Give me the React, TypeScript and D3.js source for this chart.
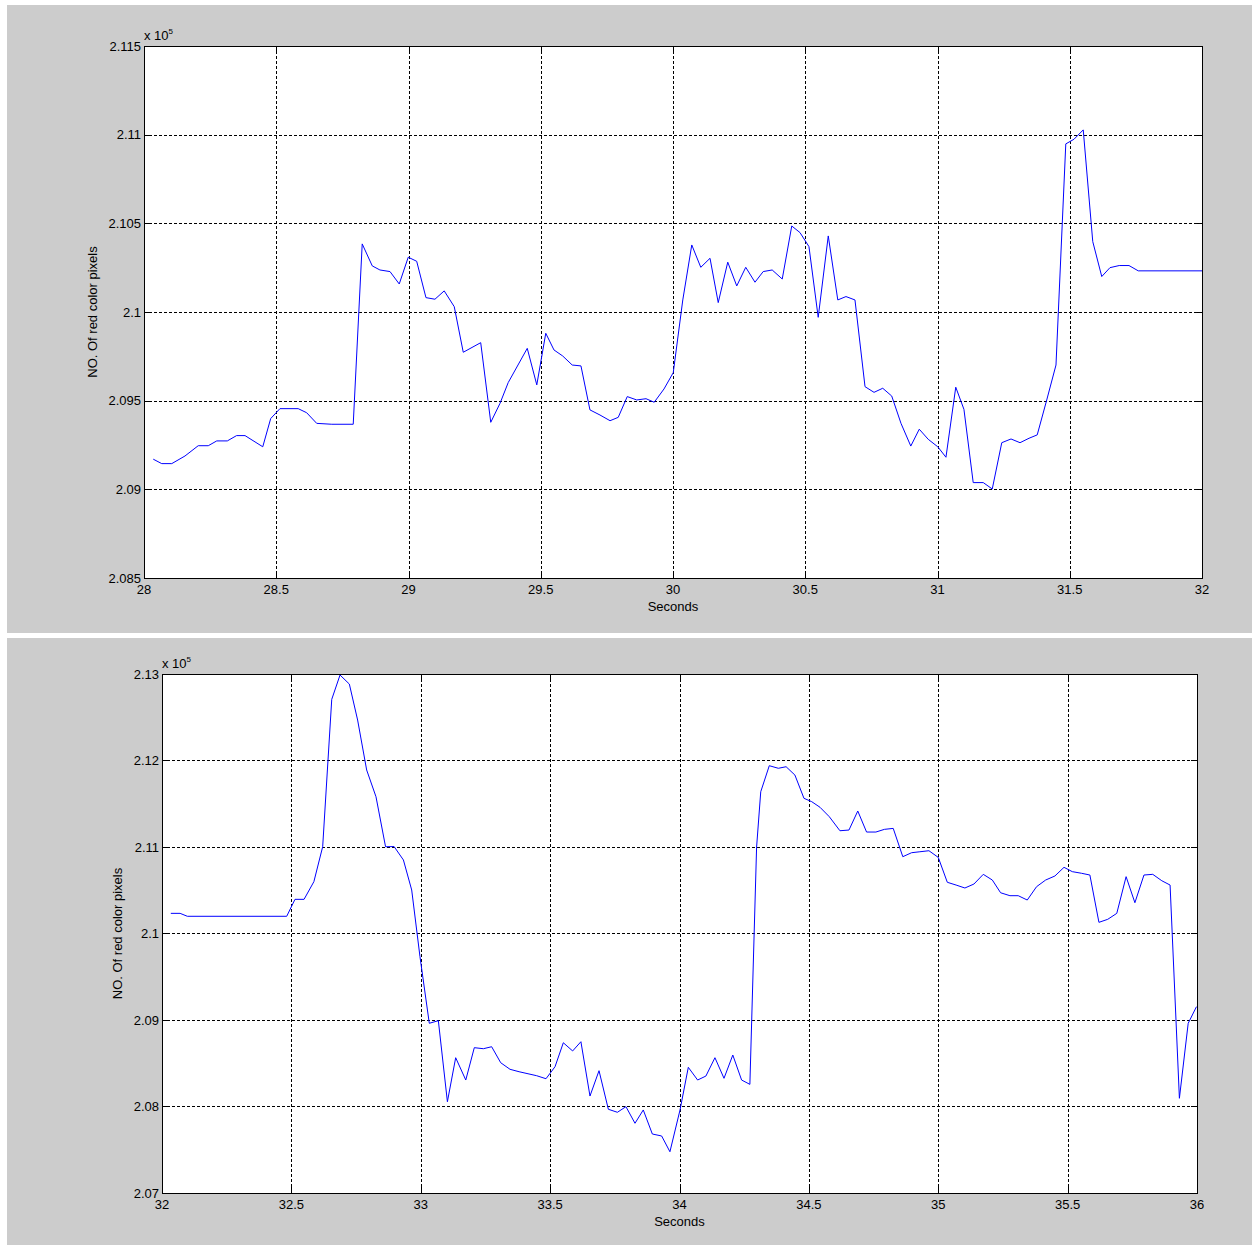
import React, { useEffect, useRef } from 'react';
import * as d3 from 'd3';

// Top panel: 28 - 32 s (values in units of 10^5 pixels)
const topSeconds = [
  28.035, 28.067, 28.105, 28.155, 28.205, 28.243, 28.275, 28.315, 28.35, 28.382,
  28.449, 28.479, 28.514, 28.583, 28.615, 28.653, 28.71, 28.791, 28.825, 28.863,
  28.892, 28.93, 28.965, 28.999, 29.031, 29.066, 29.1, 29.135, 29.173, 29.207,
  29.273, 29.311, 29.346, 29.377, 29.449, 29.485, 29.519, 29.55, 29.583, 29.619,
  29.652, 29.686, 29.724, 29.762, 29.793, 29.827, 29.863, 29.898, 29.929, 29.966,
  30.001, 30.037, 30.071, 30.105, 30.14, 30.171, 30.207, 30.241, 30.275, 30.31,
  30.341, 30.375, 30.413, 30.449, 30.48, 30.514, 30.549, 30.587, 30.623, 30.654,
  30.688, 30.726, 30.76, 30.793, 30.827, 30.862, 30.899, 30.931, 30.965, 31.001,
  31.032, 31.069, 31.1, 31.135, 31.173, 31.207, 31.243, 31.278, 31.312, 31.346,
  31.377, 31.413, 31.448, 31.485, 31.516, 31.551, 31.587, 31.621, 31.652, 31.687,
  31.724, 31.759, 32.0,
];
const topPixels = [
  2.0917, 2.09145, 2.09145, 2.09188, 2.09246, 2.09246, 2.09273, 2.09273, 2.09303, 2.09303,
  2.0924, 2.09399, 2.09455, 2.09455, 2.09432, 2.09372, 2.09367, 2.09367, 2.10384, 2.1026,
  2.10237, 2.10228, 2.10158, 2.10309, 2.10286, 2.10081, 2.10072, 2.10119, 2.1003, 2.09773,
  2.09827, 2.09378, 2.09485, 2.09602, 2.09795, 2.09589, 2.0988, 2.09786, 2.09752, 2.09701,
  2.09696, 2.09448, 2.09419, 2.09387, 2.09406, 2.09523, 2.09504, 2.09511, 2.09491, 2.09566,
  2.09658, 2.10068, 2.10378, 2.10252, 2.10303, 2.10053, 2.10281, 2.10147, 2.10252, 2.10168,
  2.10228, 2.10237, 2.10186, 2.10485, 2.10448, 2.10369, 2.0997, 2.10429, 2.10068, 2.10087,
  2.10068, 2.09579, 2.09547, 2.0957, 2.09526, 2.09372, 2.09244, 2.09339, 2.09282, 2.0924,
  2.09181, 2.09576, 2.09451, 2.09038, 2.09038, 2.09002, 2.09263, 2.09284, 2.09263, 2.09288,
  2.09307, 2.09504, 2.09701, 2.10948, 2.10974, 2.11027, 2.10397, 2.102, 2.1025, 2.10262,
  2.10262, 2.10232, 2.10232,
];
const topXTicks = [28, 28.5, 29, 29.5, 30, 30.5, 31, 31.5, 32];
const topYTicks = [2.085, 2.09, 2.095, 2.1, 2.105, 2.11, 2.115];

// Bottom panel: 32 - 36 s
const bottomSeconds = [
  32.034, 32.07, 32.098, 32.482, 32.514, 32.549, 32.587, 32.621, 32.656, 32.688,
  32.724, 32.756, 32.791, 32.827, 32.864, 32.897, 32.933, 32.965, 32.997, 33.033,
  33.068, 33.103, 33.135, 33.174, 33.207, 33.242, 33.274, 33.309, 33.345, 33.38,
  33.448, 33.484, 33.519, 33.551, 33.587, 33.619, 33.654, 33.689, 33.725, 33.76,
  33.793, 33.828, 33.86, 33.895, 33.931, 33.963, 34.002, 34.034, 34.07, 34.102,
  34.137, 34.172, 34.206, 34.24, 34.272, 34.298, 34.314, 34.347, 34.382, 34.412,
  34.446, 34.481, 34.511, 34.543, 34.579, 34.62, 34.655, 34.689, 34.723, 34.759,
  34.792, 34.826, 34.863, 34.897, 34.929, 34.964, 35.0, 35.035, 35.069, 35.103,
  35.138, 35.174, 35.209, 35.241, 35.277, 35.309, 35.344, 35.38, 35.415, 35.451,
  35.486, 35.518, 35.554, 35.586, 35.621, 35.655, 35.69, 35.726, 35.76, 35.795,
  35.829, 35.864, 35.896, 35.932, 35.966, 35.998,
];
const bottomPixels = [
  2.10233, 2.10233, 2.10199, 2.10199, 2.10395, 2.10395, 2.10599, 2.11003, 2.12707, 2.12988,
  2.12884, 2.12468, 2.1189, 2.11581, 2.11003, 2.11005, 2.1085, 2.10503, 2.09732, 2.08962,
  2.08992, 2.08055, 2.08564, 2.08306, 2.0868, 2.08668, 2.08691, 2.08506, 2.0843, 2.08402,
  2.08356, 2.08321, 2.0846, 2.08737, 2.08642, 2.08749, 2.08121, 2.08414, 2.07968, 2.07933,
  2.07998, 2.07806, 2.0796, 2.07682, 2.07659, 2.07477, 2.0796, 2.08453, 2.08306, 2.08352,
  2.08564, 2.08326, 2.08595, 2.08306, 2.08256, 2.11, 2.11639, 2.1194, 2.1191, 2.11928,
  2.11832, 2.11563, 2.11524, 2.11459, 2.1135, 2.11188, 2.11196, 2.11416, 2.11173, 2.11173,
  2.11204, 2.11215, 2.10888, 2.10934, 2.10945, 2.10957, 2.1088, 2.10592, 2.1056, 2.10526,
  2.10572, 2.10684, 2.10618, 2.10471, 2.10437, 2.10437, 2.10387, 2.10541, 2.10618, 2.10665,
  2.10765, 2.10715, 2.10696, 2.10676, 2.10129, 2.10164, 2.10233, 2.10657, 2.10356, 2.10676,
  2.10684, 2.1061, 2.1056, 2.08095, 2.08962, 2.09154,
];
const bottomXTicks = [32, 32.5, 33, 33.5, 34, 34.5, 35, 35.5, 36];
const bottomYTicks = [2.07, 2.08, 2.09, 2.1, 2.11, 2.12, 2.13];

const FONT = 'Arial, "Liberation Sans", sans-serif';

function Panel(props) {
  const ref = useRef(null);

  useEffect(() => {
    const { frame, plot, seconds, pixels, xTicks, yTicks, yLabelX } = props;
    const root = d3.select(ref.current);
    root.selectAll('*').remove();

    // Grey figure background
    root
      .append('rect')
      .attr('x', frame.x)
      .attr('y', frame.y)
      .attr('width', frame.w)
      .attr('height', frame.h)
      .attr('fill', '#cccccc');

    const xScale = d3
      .scaleLinear()
      .domain([xTicks[0], xTicks[xTicks.length - 1]])
      .range([plot.left, plot.left + plot.width]);

    const yScale = d3
      .scaleLinear()
      .domain([yTicks[0], yTicks[yTicks.length - 1]])
      .range([plot.top + plot.height, plot.top]);

    const px = v => Math.round(v) + 0.5;

    // Axes background
    root
      .append('rect')
      .attr('x', plot.left)
      .attr('y', plot.top)
      .attr('width', plot.width)
      .attr('height', plot.height)
      .attr('fill', '#ffffff');

    // Grid lines (dotted)
    const grid = root.append('g').attr('class', 'grid');
    grid
      .selectAll('.vgrid')
      .data(xTicks.slice(1, -1))
      .enter()
      .append('line')
      .attr('x1', d => px(xScale(d)))
      .attr('x2', d => px(xScale(d)))
      .attr('y1', plot.top)
      .attr('y2', plot.top + plot.height)
      .attr('stroke', '#000')
      .attr('stroke-dasharray', '3,2');
    grid
      .selectAll('.hgrid')
      .data(yTicks.slice(1, -1))
      .enter()
      .append('line')
      .attr('x1', plot.left)
      .attr('x2', plot.left + plot.width)
      .attr('y1', d => px(yScale(d)))
      .attr('y2', d => px(yScale(d)))
      .attr('stroke', '#000')
      .attr('stroke-dasharray', '3,2');

    // Data line
    const line = d3
      .line()
      .x(d => xScale(d[0]))
      .y(d => yScale(d[1]));

    root
      .append('path')
      .datum(seconds.map((s, i) => [s, pixels[i]]))
      .attr('d', line)
      .attr('fill', 'none')
      .attr('stroke', '#0000ff')
      .attr('stroke-width', 1);

    // Ticks on all four sides (inward)
    const tickLen = 6;
    const ticks = root.append('g').attr('class', 'ticks').attr('stroke', '#000');
    xTicks.forEach(t => {
      const x = px(xScale(t));
      ticks.append('line').attr('x1', x).attr('x2', x)
        .attr('y1', plot.top + plot.height).attr('y2', plot.top + plot.height - tickLen);
      ticks.append('line').attr('x1', x).attr('x2', x)
        .attr('y1', plot.top).attr('y2', plot.top + tickLen);
    });
    yTicks.forEach(t => {
      const y = px(yScale(t));
      ticks.append('line').attr('x1', plot.left).attr('x2', plot.left + tickLen)
        .attr('y1', y).attr('y2', y);
      ticks.append('line').attr('x1', plot.left + plot.width).attr('x2', plot.left + plot.width - tickLen)
        .attr('y1', y).attr('y2', y);
    });

    // Box
    root
      .append('rect')
      .attr('x', px(plot.left))
      .attr('y', px(plot.top))
      .attr('width', Math.round(plot.width))
      .attr('height', Math.round(plot.height))
      .attr('fill', 'none')
      .attr('stroke', '#000');

    const labels = root
      .append('g')
      .style('font-family', FONT)
      .style('font-size', '13px')
      .attr('fill', '#000');

    // X tick labels
    labels
      .selectAll('.xlab')
      .data(xTicks)
      .enter()
      .append('text')
      .attr('x', d => xScale(d))
      .attr('y', plot.top + plot.height + 16)
      .attr('text-anchor', 'middle')
      .text(d => String(d));

    // Y tick labels
    labels
      .selectAll('.ylab')
      .data(yTicks)
      .enter()
      .append('text')
      .attr('x', plot.left - 3)
      .attr('y', d => yScale(d) + 4.5)
      .attr('text-anchor', 'end')
      .text(d => String(+d.toFixed(3)));

    // Exponent
    const expo = labels
      .append('text')
      .attr('x', plot.left)
      .attr('y', plot.top - 6);
    expo.append('tspan').text('x 10');
    expo
      .append('tspan')
      .attr('dy', -6)
      .style('font-size', '8px')
      .text('5');

    // Axis titles
    labels
      .append('text')
      .attr('x', plot.left + plot.width / 2)
      .attr('y', plot.top + plot.height + 33)
      .attr('text-anchor', 'middle')
      .text('Seconds');

    labels
      .append('text')
      .attr('transform', `translate(${yLabelX},${plot.top + plot.height / 2}) rotate(-90)`)
      .attr('text-anchor', 'middle')
      .text('NO. Of red color pixels');
  }, [props]);

  return <g ref={ref} />;
}

export default function App() {
  return (
    <svg
      width={1252}
      height={1245}
      style={{ position: 'absolute', left: 0, top: 0, background: '#ffffff' }}
    >
      <Panel
        frame={{ x: 7, y: 5, w: 1245, h: 628 }}
        plot={{ left: 144, top: 46, width: 1058, height: 532 }}
        seconds={topSeconds}
        pixels={topPixels}
        xTicks={topXTicks}
        yTicks={topYTicks}
        yLabelX={97}
      />
      <Panel
        frame={{ x: 7, y: 638, w: 1245, h: 607 }}
        plot={{ left: 162, top: 674, width: 1035, height: 519 }}
        seconds={bottomSeconds}
        pixels={bottomPixels}
        xTicks={bottomXTicks}
        yTicks={bottomYTicks}
        yLabelX={122}
      />
    </svg>
  );
}
